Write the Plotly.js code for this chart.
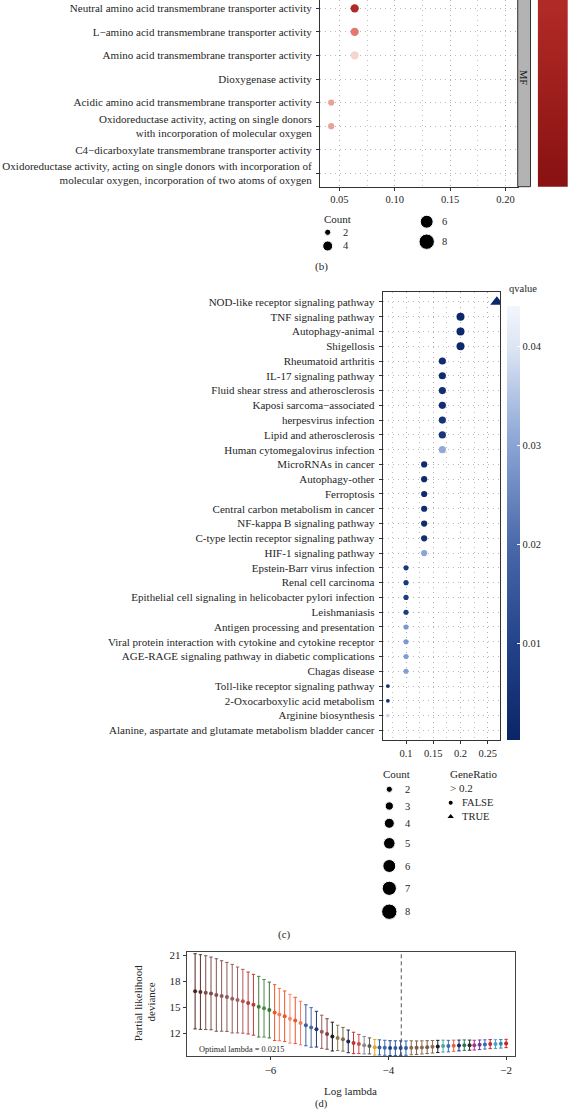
<!DOCTYPE html>
<html><head><meta charset="utf-8">
<script src="https://cdn.plot.ly/plotly-3.0.1.min.js"></script>
<style>html,body{margin:0;padding:0;background:#fff}#chart{width:568px;height:1111px}</style>
</head><body><div id="chart"></div>
<script>
// ---------- Panel (b): GO MF terms (top to bottom) ----------
const bTerms = [
  'Neutral amino acid transmembrane transporter activity',
  'L\u2212amino acid transmembrane transporter activity',
  'Amino acid transmembrane transporter activity',
  'Dioxygenase activity',
  'Acidic amino acid transmembrane transporter activity',
  'Oxidoreductase activity, acting on single donors<br>with incorporation of molecular oxygen',
  'C4\u2212dicarboxylate transmembrane transporter activity',
  'Oxidoreductase activity, acting on single donors with incorporation of<br>molecular oxygen, incorporation of two atoms of oxygen'
];
const bGeneRatio = [0.0638, 0.0638, 0.0638, null, 0.0426, 0.0426, null, null];
const bCount     = [3, 3, 3, null, 2, 2, null, null];
const bPadj      = [0.011, 0.0275, 0.043, null, 0.034, 0.034, null, null];
const bTickVals  = [0.05, 0.10, 0.15, 0.20];
const bTickText  = ['0.05', '0.10', '0.15', '0.20'];
const bFacet     = 'MF';
const bLegendCounts = [2, 4, 6, 8];
const pBarLevels = [0, 0.001, 0.002, 0.003, 0.004, 0.005, 0.006, 0.007, 0.008, 0.009, 0.010, 0.011];

// ---------- Panel (c): KEGG pathways (top to bottom) ----------
const cTerms = [
  'NOD-like receptor signaling pathway',
  'TNF signaling pathway',
  'Autophagy-animal',
  'Shigellosis',
  'Rheumatoid arthritis',
  'IL-17 signaling pathway',
  'Fluid shear stress and atherosclerosis',
  'Kaposi sarcoma\u2212associated',
  'herpesvirus infection',
  'Lipid and atherosclerosis',
  'Human cytomegalovirus infection',
  'MicroRNAs in cancer',
  'Autophagy-other',
  'Ferroptosis',
  'Central carbon metabolism in cancer',
  'NF-kappa B signaling pathway',
  'C-type lectin receptor signaling pathway',
  'HIF-1 signaling pathway',
  'Epstein-Barr virus infection',
  'Renal cell carcinoma',
  'Epithelial cell signaling in helicobacter pylori infection',
  'Leishmaniasis',
  'Antigen processing and presentation',
  'Viral protein interaction with cytokine and cytokine receptor',
  'AGE-RAGE signaling pathway in diabetic complications',
  'Chagas disease',
  'Toll-like receptor signaling pathway',
  '2-Oxocarboxylic acid metabolism',
  'Arginine biosynthesis',
  'Alanine, aspartate and glutamate metabolism bladder cancer'
];
const cGeneRatio = [0.2667, 0.2, 0.2, 0.2, 0.1667, 0.1667, 0.1667, 0.1667, 0.1667, 0.1667, 0.1667,
  0.1333, 0.1333, 0.1333, 0.1333, 0.1333, 0.1333, 0.1333, 0.1, 0.1, 0.1, 0.1, 0.1, 0.1, 0.1, 0.1,
  0.0667, 0.0667, 0.0667, null];
const cCount = [8, 6, 6, 6, 5, 5, 5, 5, 5, 5, 5, 4, 4, 4, 4, 4, 4, 4, 3, 3, 3, 3, 3, 3, 3, 3, 2, 2, 2, null];
const cQvalue = [0.0012, 0.0015, 0.0015, 0.0018, 0.0025, 0.0025, 0.003, 0.003, 0.005, 0.006, 0.031,
  0.002, 0.0022, 0.0022, 0.0025, 0.0028, 0.003, 0.030, 0.007, 0.007, 0.008, 0.008, 0.028, 0.028, 0.029, 0.029,
  0.004, 0.004, 0.038, null];
const cTickVals = [0.1, 0.15, 0.2, 0.25];
const cTickText = ['0.1', '0.15', '0.2', '0.25'];
const qTickVals = [0.01, 0.02, 0.03, 0.04];
const qTickText = ['0.01', '0.02', '0.03', '0.04'];
const qRange = [0.0002, 0.0441];
const cLegendCounts = [2, 3, 4, 5, 6, 7, 8];
const ratioThreshold = 0.2;

// ---------- Panel (d): cross-validated partial likelihood deviance ----------
const dLogLambda = [-7.28, -7.19, -7.10, -7.01, -6.92, -6.83, -6.74, -6.65, -6.56, -6.47,
  -6.38, -6.29, -6.20, -6.11, -6.02, -5.93, -5.85, -5.76, -5.67, -5.58,
  -5.49, -5.40, -5.31, -5.22, -5.13, -5.04, -4.95, -4.86, -4.77, -4.68,
  -4.59, -4.50, -4.41, -4.32, -4.23, -4.15, -4.06, -3.97, -3.88, -3.79,
  -3.70, -3.61, -3.52, -3.43, -3.34, -3.25, -3.16, -3.07, -2.98, -2.89,
  -2.80, -2.71, -2.62, -2.54, -2.45, -2.36, -2.27, -2.18, -2.09, -2.00];
const dDeviance = [16.84, 16.76, 16.69, 16.60, 16.42, 16.31, 16.20, 16.00, 15.85, 15.70,
  15.50, 15.30, 15.08, 14.90, 14.70, 14.40, 14.17, 13.98, 13.70, 13.50,
  13.20, 12.95, 12.70, 12.50, 12.20, 11.95, 11.65, 11.50, 11.34, 11.10,
  10.92, 10.80, 10.66, 10.58, 10.43, 10.41, 10.37, 10.33, 10.33, 10.33,
  10.33, 10.37, 10.37, 10.41, 10.44, 10.48, 10.52, 10.56, 10.56, 10.60,
  10.63, 10.67, 10.67, 10.67, 10.71, 10.75, 10.79, 10.79, 10.82, 10.86];
const dSE = [4.31, 4.28, 4.23, 4.17, 4.16, 4.04, 3.96, 3.93, 3.78, 3.66,
  3.55, 3.49, 3.48, 3.30, 3.20, 3.20, 3.00, 2.90, 2.80, 2.65,
  2.50, 2.35, 2.27, 2.05, 1.90, 1.75, 1.65, 1.45, 1.36, 1.30,
  1.23, 1.10, 1.00, 0.92, 0.90, 0.87, 0.86, 0.85, 0.84, 0.83,
  0.82, 0.80, 0.78, 0.76, 0.74, 0.72, 0.70, 0.68, 0.66, 0.64,
  0.62, 0.60, 0.58, 0.56, 0.55, 0.53, 0.52, 0.50, 0.49, 0.48];
const dLambdaMinLog = -3.78;
const dOptimalText = 'Optimal lambda = 0.0215';
const dTickX = [-6, -4, -2];
const dTickY = [12, 15, 18, 21];

// ---------- styles ----------
const dColors = ['#4b2523','#5c2f2c','#7b4d4b','#7b4d4b','#85514f','#8c5957','#8c5957','#96605e','#a0605e','#b05a58',
  '#b73b3b','#b73b3b','#3f7f3f','#4a8c4a','#3a733a','#f0542a','#f07a5c','#f0542a','#f08a70','#f0542a',
  '#f07a5c','#3d5f9e','#4868a6','#1f3570','#9a5c5c','#7e3e3e','#1e1e1e','#8c7a52','#7a6a44','#1c2a55',
  '#c23232','#c84848','#8a8a8a','#5a5a5a','#e8a21e','#2f5ea8','#3a69b3','#1f3f8a','#2f5ea8','#1f3f8a',
  '#2f5ea8','#8b6e52','#7a5e44','#8b6e52','#7a5e44','#8b6e52','#1e1e1e','#4aa6a6','#3a6ab5','#e8603a',
  '#1a2a6a','#2a7a5a','#2a2a2a','#b0308e','#6a3aa0','#3a6ac0','#c82828','#4aa0d0','#2a8ab0','#d02020'];
const bScale = [[0,'#8a1212'],[0.22,'#b02a26'],[0.55,'#e07a70'],[0.85,'#f6d3cc'],[1,'#fdf2f0']];
const qScale = [[0,'#0b2566'],[0.22,'#22428a'],[0.45,'#4a69aa'],[0.7,'#90a9d8'],[0.9,'#dbe4f3'],[1,'#f3f6fc']];
const W = 568, H = 1111;
const X = p => p / W, Y = p => 1 - p / H;
const FONT = 'Liberation Serif, "Times New Roman", serif';
const TXT = '#262626';
const sizeFn = c => 6.5 * Math.sqrt(c) - 3;      // legend / panel b marker size
const cPlotScale = 0.62;                            // panel c markers drawn compressed

const traces = [];

// Panel b points
const bN = bTerms.length;
const bY = bTerms.map((t, i) => bN - 1 - i);
const bIdx = bTerms.map((t, i) => i).filter(i => bGeneRatio[i] !== null);
traces.push({type:'scatter', mode:'markers', xaxis:'x', yaxis:'y',
  x: bIdx.map(i => bGeneRatio[i]), y: bIdx.map(i => bY[i]),
  marker:{size: bIdx.map(i => sizeFn(bCount[i])), color: bIdx.map(i => bPadj[i]), opacity:1,
    colorscale: bScale, cmin:0, cmax:0.05, showscale:false, line:{width:0}},
  hoverinfo:'skip'});

// Panel b colour bar fragment
traces.push({type:'heatmap', xaxis:'x2', yaxis:'y2', x:[0,1], y:pBarLevels,
  z: pBarLevels.map(v => [v, v]), colorscale: bScale, zmin:0, zmax:0.05,
  zsmooth:'best', showscale:false, hoverinfo:'skip'});

// Panel c points
const cN = cTerms.length;
const cY = cTerms.map((t, i) => cN - 1 - i);
const cCirc = cTerms.map((t, i) => i).filter(i => cGeneRatio[i] !== null && !(cGeneRatio[i] > ratioThreshold));
const cTri  = cTerms.map((t, i) => i).filter(i => cGeneRatio[i] !== null && cGeneRatio[i] > ratioThreshold);
traces.push({type:'scatter', mode:'markers', xaxis:'x3', yaxis:'y3',
  x: cCirc.map(i => cGeneRatio[i]), y: cCirc.map(i => cY[i]),
  marker:{symbol:'circle', size: cCirc.map(i => sizeFn(cCount[i]) * cPlotScale), opacity:1,
    color: cCirc.map(i => cQvalue[i]), colorscale: qScale, cmin:qRange[0], cmax:qRange[1],
    line:{width:0}, showscale:true,
    colorbar:{x:X(506.7), xanchor:'left', xpad:0, y:Y(740), yanchor:'bottom', ypad:0,
      len:434.3, lenmode:'pixels', thickness:13.3, thicknessmode:'pixels', outlinewidth:0,
      tickmode:'array', tickvals:qTickVals, ticktext:qTickText, ticks:'inside', ticklen:3,
      tickcolor:'#ffffff', tickwidth:1, tickfont:{family:FONT, size:10.5, color:TXT}, title:{text:''}}},
  hoverinfo:'skip'});
traces.push({type:'scatter', mode:'markers', xaxis:'x3', yaxis:'y3',
  x: cTri.map(i => cGeneRatio[i]), y: cTri.map(i => cY[i]),
  marker:{symbol:'triangle-up', size: cTri.map(i => sizeFn(cCount[i]) * cPlotScale * 1.2), opacity:1,
    color: cTri.map(i => cQvalue[i]), colorscale: qScale, cmin:qRange[0], cmax:qRange[1],
    line:{width:0}, showscale:false},
  hoverinfo:'skip'});

// Panel d points with error bars
dLogLambda.forEach((lx, i) => {
  traces.push({type:'scatter', mode:'markers', xaxis:'x4', yaxis:'y4',
    x:[lx], y:[dDeviance[i]],
    error_y:{type:'data', array:[dSE[i]], color:dColors[i], thickness:1, width:1.7},
    marker:{size:4, color:dColors[i], opacity:1}, hoverinfo:'skip'});
});

// Legend keys (page-pixel overlay axis)
const LEG_B = {col1:{x:327.7, y:[232.3, 246]}, col2:{x:426.7, y:[221.7, 241.7]}, textDx:13};
const LEG_C = {x:389.3, y:[789.3, 806, 823.3, 843.3, 866, 888.3, 911.7], textX:403};
const bLegX = [LEG_B.col1.x, LEG_B.col1.x, LEG_B.col2.x, LEG_B.col2.x];
const bLegY = [LEG_B.col1.y[0], LEG_B.col1.y[1], LEG_B.col2.y[0], LEG_B.col2.y[1]];
traces.push({type:'scatter', mode:'markers', xaxis:'x5', yaxis:'y5', x:bLegX, y:bLegY,
  marker:{size: bLegendCounts.map(sizeFn), color:'#000', opacity:1}, hoverinfo:'skip'});
traces.push({type:'scatter', mode:'markers', xaxis:'x5', yaxis:'y5',
  x: cLegendCounts.map(() => LEG_C.x), y: LEG_C.y,
  marker:{size: cLegendCounts.map(sizeFn), color:'#000', opacity:1}, hoverinfo:'skip'});
traces.push({type:'scatter', mode:'markers', xaxis:'x5', yaxis:'y5', x:[450.7], y:[802.7],
  marker:{size:4, color:'#000', opacity:1}, hoverinfo:'skip'});
traces.push({type:'scatter', mode:'markers', xaxis:'x5', yaxis:'y5', x:[450.7], y:[816.7],
  marker:{size:5.5, color:'#000', symbol:'triangle-up', opacity:1}, hoverinfo:'skip'});

// ---------- axes ----------
function ax(o) {
  return Object.assign({showline:true, linecolor:'#333', linewidth:1, ticks:'outside', ticklen:3,
    tickwidth:1, tickcolor:'#333', zeroline:false, fixedrange:true,
    tickfont:{family:FONT, size:10.5, color:TXT}}, o);
}
const grid = {showgrid:true, gridcolor:'#a6a6a6', gridwidth:0.8, griddash:'1px,4px'};
const minorGrid = d => ({tick0:0, dtick:d, showgrid:true, gridcolor:'#b0b0b0', gridwidth:0.8, griddash:'1px,4px', ticks:''});

function ann(text, px, py, o) {
  return Object.assign({text:text, x:X(px), y:Y(py), xref:'paper', yref:'paper', showarrow:false,
    xanchor:'center', yanchor:'middle', font:{family:FONT, size:11, color:TXT}}, o || {});
}

const annotations = [
  ann(bFacet, 524, 77, {textangle:90, font:{family:FONT, size:10.5, color:'#1a1a1a'}}),
  ann('Count', 321.7, 219, {xanchor:'left'}),
  ann(String(bLegendCounts[0]), LEG_B.col1.x + LEG_B.textDx, LEG_B.col1.y[0], {xanchor:'left', font:{family:FONT, size:10.5, color:TXT}}),
  ann(String(bLegendCounts[1]), LEG_B.col1.x + LEG_B.textDx, LEG_B.col1.y[1], {xanchor:'left', font:{family:FONT, size:10.5, color:TXT}}),
  ann(String(bLegendCounts[2]), LEG_B.col2.x + LEG_B.textDx, LEG_B.col2.y[0], {xanchor:'left', font:{family:FONT, size:10.5, color:TXT}}),
  ann(String(bLegendCounts[3]), LEG_B.col2.x + LEG_B.textDx, LEG_B.col2.y[1], {xanchor:'left', font:{family:FONT, size:10.5, color:TXT}}),
  ann('(b)', 321.7, 266.7),
  ann('qvalue', 507, 288, {xanchor:'left', font:{family:FONT, size:10.5, color:TXT}}),
  ann('Count', 396.7, 774),
  ann('GeneRatio', 447.5, 774, {xanchor:'left'}),
  ann('&gt; ' + ratioThreshold, 448, 788.3, {xanchor:'left'}),
  ann('FALSE', 459.5, 802.7, {xanchor:'left', font:{family:FONT, size:10.5, color:TXT}}),
  ann('TRUE', 459.5, 816.7, {xanchor:'left', font:{family:FONT, size:10.5, color:TXT}}),
  ann('(c)', 284, 934),
  ann('Partial likelihood', 138.3, 1003, {textangle:-90}),
  ann('deviance', 150.5, 1002, {textangle:-90}),
  ann('Log lambda', 350.8, 1090.5),
  ann(dOptimalText, 196.7, 1049.3, {xanchor:'left', font:{family:FONT, size:8.3, color:TXT}}),
  ann('(d)', 321.7, 1103.5, {font:{family:FONT, size:10.5, color:TXT}})
];
cLegendCounts.forEach((c, i) => annotations.push(
  ann(String(c), LEG_C.textX, LEG_C.y[i], {xanchor:'left', font:{family:FONT, size:10.5, color:TXT}})));

const layout = {
  width:W, height:H, margin:{l:0, r:0, t:0, b:0}, paper_bgcolor:'#fff', plot_bgcolor:'rgba(0,0,0,0)',
  showlegend:false, font:{family:FONT, color:TXT, size:10.5},
  // panel b
  xaxis: ax(Object.assign({domain:[X(320), X(517.7)], range:[0.0325, 0.211], anchor:'y', mirror:false,
    tickmode:'array', tickvals:bTickVals, ticktext:bTickText, minor:minorGrid(0.025)}, grid)),
  yaxis: ax(Object.assign({domain:[Y(186.7), 1], range:[-0.569, 7.352], anchor:'x', mirror:true,
    tickmode:'array', tickvals:bY, ticktext:bTerms, ticklabelstandoff:2,
    tickfont:{family:FONT, size:11.05, color:TXT}}, grid)),
  // panel b colour bar fragment
  xaxis2: {domain:[X(537.7), 1], anchor:'y2', visible:false, fixedrange:true},
  yaxis2: {domain:[Y(186.7), 1], anchor:'x2', visible:false, fixedrange:true},
  // panel c
  xaxis3: ax(Object.assign({domain:[X(382.7), X(500)], range:[0.0572, 0.2725], anchor:'y3', mirror:true,
    tickmode:'array', tickvals:cTickVals, ticktext:cTickText, minor:minorGrid(0.025)}, grid)),
  yaxis3: ax(Object.assign({domain:[Y(740), Y(292.3)], range:[-0.65, 29.65], anchor:'x3', mirror:true,
    tickmode:'array', tickvals:cY, ticktext:cTerms, ticklabelstandoff:2,
    tickfont:{family:FONT, size:11, color:TXT}}, grid)),
  // panel d
  xaxis4: ax({domain:[X(186.7), X(515)], range:[-7.423, -1.849], anchor:'y4', mirror:true,
    tickmode:'array', tickvals:dTickX, showgrid:false, linecolor:'#444',
    tickfont:{family:FONT, size:11, color:TXT}}),
  yaxis4: ax({domain:[Y(1056.3), Y(952)], range:[9.39, 21.35], anchor:'x4', mirror:true,
    tickmode:'array', tickvals:dTickY, showgrid:false, linecolor:'#444',
    tickfont:{family:FONT, size:11, color:TXT}}),
  // page-pixel overlay for legend keys
  xaxis5: {domain:[0, 1], range:[0, W], anchor:'y5', visible:false, fixedrange:true},
  yaxis5: {domain:[0, 1], range:[H, 0], anchor:'x5', visible:false, fixedrange:true},
  shapes: [
    {type:'rect', xref:'paper', yref:'paper', x0:X(517.7), x1:X(530.5), y0:Y(186.7), y1:1.02,
      fillcolor:'#b3b3b3', line:{color:'#333', width:1}, layer:'above'},
    {type:'line', xref:'x4', yref:'y4 domain', x0:dLambdaMinLog, x1:dLambdaMinLog, y0:0, y1:1,
      line:{color:'#555', width:1, dash:'4px,3px'}}
  ],
  annotations: annotations
};

Plotly.newPlot('chart', traces, layout, {staticPlot:true, displayModeBar:false});
</script></body></html>
